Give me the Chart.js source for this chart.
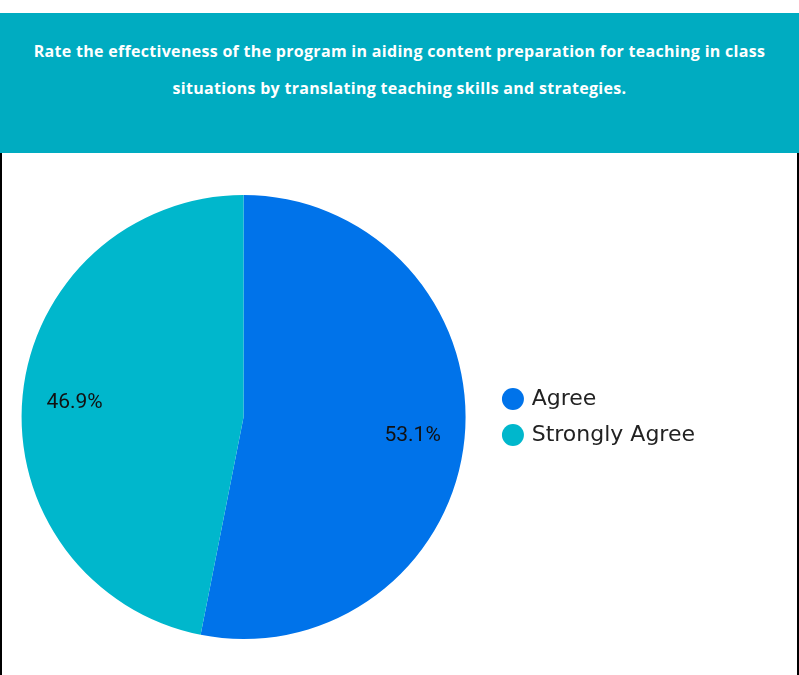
<!DOCTYPE html>
<html>
<head>
<meta charset="utf-8">
<script src="https://cdn.jsdelivr.net/npm/chart.js@4.4.1/dist/chart.umd.min.js"></script>
<style>
  html, body { margin: 0; padding: 0; background: #fff; }
  body { width: 799px; height: 675px; position: relative; overflow: hidden; }
  #header {
    position: absolute; left: 0; top: 13px; width: 799px; height: 140px;
    background: #00acc1; color: #fff; text-align: center;
    font-family: "Open Sans", sans-serif; font-weight: 700; font-size: 16px;
    letter-spacing: 0.3px;
    line-height: 37px; box-sizing: border-box; padding-top: 20px;
  }
  #frame {
    position: absolute; left: 0; top: 153px; width: 799px; height: 522px;
    box-sizing: border-box; border-left: 2px solid #000; border-right: 2px solid #000;
  }
  #wrap { position: absolute; left: -8px; top: 153px; width: 713px; height: 522px; }
</style>
</head>
<body>
<div id="header">Rate the effectiveness of the program in aiding content preparation for teaching in class<br>situations by translating teaching skills and strategies.</div>
<div id="frame"></div>
<div id="wrap"><canvas id="c"></canvas></div>
<script>
const categories = ["Agree", "Strongly Agree"];
const values = [53.1, 46.9];
const colors = ["#0073ea", "#00b7cc"];

const labelPlugin = {
  id: 'sliceLabels',
  afterDatasetsDraw(chart) {
    const ctx = chart.ctx;
    const meta = chart.getDatasetMeta(0);
    const total = values.reduce((a, b) => a + b, 0);
    ctx.save();
    ctx.font = '21px Roboto';
    ctx.fillStyle = '#111';
    ctx.textAlign = 'center';
    ctx.textBaseline = 'middle';
    meta.data.forEach((arc, i) => {
      const p = arc.getProps(['x', 'y', 'startAngle', 'endAngle', 'outerRadius']);
      const mid = (p.startAngle + p.endAngle) / 2;
      const r = p.outerRadius * 0.765;
      const pct = (values[i] / total * 100).toFixed(1) + '%';
      ctx.fillText(pct, p.x + Math.cos(mid) * r, p.y + Math.sin(mid) * r + 2);
    });
    ctx.restore();
  }
};

const bh = 22 / Math.SQRT2;
new Chart(document.getElementById('c'), {
  type: 'pie',
  data: {
    labels: categories,
    datasets: [{ data: values, backgroundColor: colors, borderWidth: 0 }]
  },
  options: {
    responsive: true,
    maintainAspectRatio: false,
    animation: false,
    layout: { padding: { left: 4, top: 42, bottom: 36, right: 0 } },
    plugins: {
      tooltip: { enabled: false },
      legend: {
        position: 'right',
        labels: {
          usePointStyle: true,
          pointStyle: 'circle',
          boxWidth: bh,
          boxHeight: bh,
          padding: 14,
          color: '#222',
          font: { family: 'DejaVu Sans', size: 22 }
        }
      }
    }
  },
  plugins: [labelPlugin]
});
</script>
</body>
</html>
